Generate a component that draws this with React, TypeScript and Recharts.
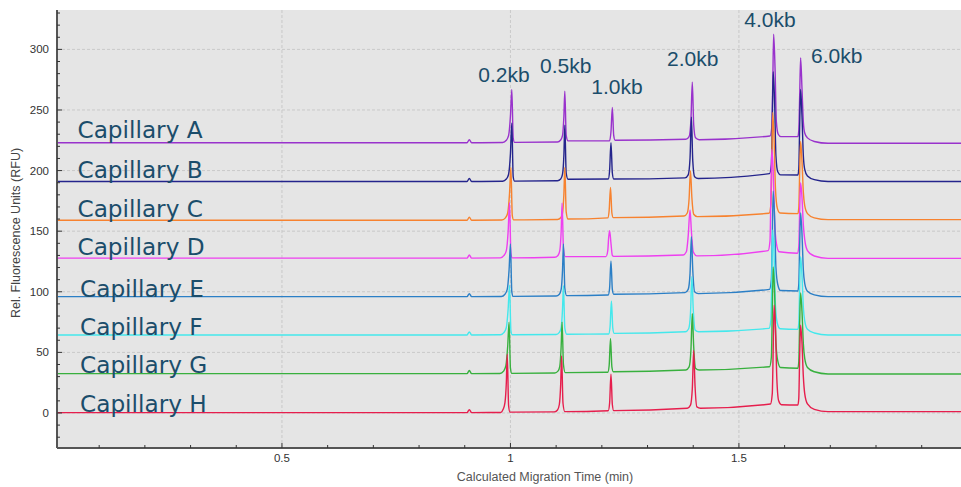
import { LineChart, Line, XAxis, YAxis, CartesianGrid, ReferenceLine, ReferenceDot } from "recharts";

type Pt = [number, number];

// migration time (min), RFU
const capA: Pt[] = [
  [0, 223], [0.905, 223], [0.91, 225.5], [0.915, 223],
  [0.983, 223.2], [0.991, 225], [0.996, 229], [1.0, 245], [1.003, 267], [1.006, 227], [1.009, 223.3],
  [1.103, 223.6], [1.11, 225.2], [1.114, 229], [1.117, 245], [1.119, 265.5], [1.122, 229], [1.126, 224.5],
  [1.217, 224.6], [1.22, 232], [1.223, 252], [1.226, 229], [1.229, 225],
  [1.384, 225.8], [1.391, 228], [1.395, 242], [1.398, 273], [1.401, 238], [1.405, 227], [1.413, 225.5],
  [1.568, 228.5], [1.572, 236], [1.574, 270], [1.576, 312.5], [1.579, 285], [1.582, 240], [1.586, 230], [1.592, 228],
  [1.629, 228], [1.631, 233], [1.633, 262], [1.635, 293], [1.638, 268], [1.641, 240], [1.644, 231], [1.65, 227], [1.665, 224], [1.695, 222.5], [1.986, 222.5],
];
const capB: Pt[] = [
  [0, 191], [0.905, 191], [0.91, 193.5], [0.915, 191],
  [0.983, 191.2], [0.991, 193], [0.996, 197], [1.0, 214], [1.003, 239], [1.006, 195], [1.009, 191.3],
  [1.103, 191.6], [1.11, 193], [1.114, 197], [1.117, 213], [1.119, 237.5], [1.122, 198], [1.126, 192.8],
  [1.214, 193], [1.217, 200], [1.22, 223], [1.223, 198], [1.226, 193],
  [1.382, 194], [1.389, 196.5], [1.393, 210], [1.396, 244], [1.399, 208], [1.403, 195], [1.411, 193.5],
  [1.567, 197.5], [1.571, 205], [1.573, 240], [1.575, 281.5], [1.578, 258], [1.581, 212], [1.585, 199], [1.591, 196.5],
  [1.629, 196.4], [1.631, 201], [1.633, 238], [1.635, 267], [1.638, 245], [1.641, 212], [1.644, 201], [1.65, 195.5], [1.665, 192.5], [1.695, 191], [1.986, 191],
];
const capC: Pt[] = [
  [0, 159], [0.905, 159], [0.91, 161.5], [0.915, 159],
  [0.981, 159.2], [0.989, 161], [0.994, 165], [0.998, 181], [1.001, 202.5], [1.004, 163], [1.007, 159.3],
  [1.103, 159.6], [1.11, 161], [1.114, 165], [1.117, 181], [1.119, 202.5], [1.122, 166], [1.126, 160],
  [1.213, 161], [1.216, 167], [1.219, 186], [1.222, 165], [1.225, 161.2],
  [1.38, 162.5], [1.387, 165], [1.391, 177], [1.394, 200], [1.397, 178], [1.401, 164], [1.409, 162],
  [1.566, 164.8], [1.57, 172], [1.572, 205], [1.574, 248], [1.577, 225], [1.58, 185], [1.584, 169], [1.59, 165],
  [1.629, 164.5], [1.631, 169], [1.633, 200], [1.635, 224], [1.638, 208], [1.641, 182], [1.644, 171], [1.65, 164.5], [1.665, 161], [1.695, 159.5], [1.986, 159.5],
];
const capD: Pt[] = [
  [0, 127.8], [0.905, 127.8], [0.91, 130.3], [0.915, 127.8],
  [0.978, 128], [0.986, 130], [0.991, 134], [0.995, 150], [0.998, 173.5], [1.001, 132], [1.004, 128],
  [1.097, 128.5], [1.104, 130], [1.108, 134], [1.111, 150], [1.113, 173], [1.116, 136], [1.12, 129],
  [1.209, 129], [1.213, 134], [1.215, 145], [1.217, 150.5], [1.22, 140], [1.223, 130], [1.226, 129.2],
  [1.378, 130.4], [1.385, 133], [1.389, 146], [1.393, 167.5], [1.396, 150], [1.4, 133], [1.408, 129.6],
  [1.564, 134], [1.568, 142], [1.57, 180], [1.572, 217.5], [1.575, 200], [1.578, 160], [1.582, 140], [1.588, 133],
  [1.628, 131.8], [1.631, 137], [1.633, 168], [1.635, 190], [1.638, 178], [1.641, 155], [1.644, 143], [1.65, 134], [1.665, 129.5], [1.695, 127.6], [1.986, 127.6],
];
const capE: Pt[] = [
  [0, 96], [0.905, 96], [0.91, 98.5], [0.915, 96],
  [0.98, 96.1], [0.988, 98], [0.993, 102], [0.997, 118], [1.0, 139.5], [1.003, 100], [1.006, 96.2],
  [1.1, 96.5], [1.107, 98], [1.111, 102], [1.114, 118], [1.116, 139.5], [1.119, 103], [1.123, 96.8],
  [1.214, 97.4], [1.217, 103], [1.22, 125.5], [1.223, 102], [1.226, 98],
  [1.382, 99.3], [1.389, 102], [1.393, 115], [1.396, 145.5], [1.399, 118], [1.403, 100], [1.411, 98.5],
  [1.567, 102], [1.571, 110], [1.573, 145], [1.575, 183], [1.578, 162], [1.581, 120], [1.585, 106], [1.591, 101],
  [1.629, 100.7], [1.631, 106], [1.633, 140], [1.635, 165], [1.638, 148], [1.641, 118], [1.644, 107], [1.65, 100.5], [1.665, 97.5], [1.695, 96], [1.986, 96],
];
const capF: Pt[] = [
  [0, 64.4], [0.905, 64.4], [0.91, 66.9], [0.915, 64.4],
  [0.978, 64.5], [0.986, 66.5], [0.991, 70.5], [0.995, 86], [0.998, 105.5], [1.001, 68], [1.004, 64.5],
  [1.1, 64.7], [1.107, 66.5], [1.111, 70.5], [1.114, 86], [1.116, 105], [1.119, 70], [1.123, 65],
  [1.215, 65.2], [1.218, 71], [1.221, 92.5], [1.224, 70], [1.227, 65.7],
  [1.383, 67], [1.39, 69.5], [1.394, 82], [1.397, 112.5], [1.4, 86], [1.404, 68.5], [1.412, 67],
  [1.566, 69.8], [1.57, 77], [1.572, 112], [1.574, 151], [1.577, 130], [1.58, 88], [1.584, 74], [1.59, 69.5],
  [1.629, 69], [1.631, 74], [1.633, 106], [1.635, 129], [1.638, 114], [1.641, 87], [1.644, 76], [1.65, 69], [1.665, 66], [1.695, 64.4], [1.986, 64.4],
];
const capG: Pt[] = [
  [0, 32.5], [0.905, 32.5], [0.91, 35], [0.915, 32.5],
  [0.977, 32.6], [0.985, 34.5], [0.99, 39], [0.994, 55], [0.997, 75], [1.0, 37], [1.003, 32.7],
  [1.097, 33], [1.104, 34.5], [1.108, 38.5], [1.111, 55], [1.113, 75], [1.116, 40], [1.12, 33.3],
  [1.213, 33.6], [1.216, 39], [1.219, 61.5], [1.222, 38], [1.225, 34],
  [1.384, 35.5], [1.391, 38], [1.395, 52], [1.398, 82], [1.401, 55], [1.405, 37], [1.413, 35.5],
  [1.567, 38.2], [1.571, 46], [1.573, 82], [1.575, 120.5], [1.578, 100], [1.581, 58], [1.585, 43], [1.591, 37.5],
  [1.629, 36.9], [1.631, 42], [1.633, 76], [1.635, 99], [1.638, 84], [1.641, 57], [1.644, 45], [1.65, 37.5], [1.665, 34], [1.695, 32.2], [1.986, 32.2],
];
const capH: Pt[] = [
  [0, 0.3], [0.905, 0.3], [0.91, 2.8], [0.915, 0.3],
  [0.979, 0.4], [0.984, 3], [0.988, 8.5], [0.991, 25], [0.993, 48.5], [0.996, 6], [0.999, 0.7],
  [1.096, 0.9], [1.103, 2.5], [1.107, 7], [1.11, 24], [1.112, 47], [1.115, 8], [1.119, 1.1],
  [1.214, 1.8], [1.217, 8], [1.22, 32], [1.223, 7], [1.226, 1.9],
  [1.387, 3.9], [1.394, 6.5], [1.398, 20], [1.401, 51.5], [1.404, 22], [1.408, 5], [1.416, 3.9],
  [1.569, 7.4], [1.573, 16], [1.575, 52], [1.577, 89], [1.58, 70], [1.583, 28], [1.587, 10], [1.593, 6.8],
  [1.629, 6.6], [1.631, 12], [1.633, 48], [1.635, 72.5], [1.638, 58], [1.641, 30], [1.644, 16], [1.65, 7.5], [1.665, 3], [1.695, 1.1], [1.986, 1.1],
];

const capillaries = ["Capillary A", "Capillary B", "Capillary C", "Capillary D", "Capillary E", "Capillary F", "Capillary G", "Capillary H"];
const traces = [capA, capB, capC, capD, capE, capF, capG, capH];
const colors = ["#9932cc", "#24248c", "#f7822f", "#ee3ff0", "#2b7fc6", "#44e8ec", "#38b03e", "#e61e4d"];

// where the capillary names sit (min, RFU)
const capLabelAt: Pt[] = [
  [0.0525, 233.5], [0.0525, 201.3], [0.0525, 168.9], [0.0525, 137.2],
  [0.058, 102.9], [0.058, 71.2], [0.058, 39.6], [0.058, 7.9],
];

const fragments = ["0.2kb", "0.5kb", "1.0kb", "2.0kb", "4.0kb", "6.0kb"];
const fragmentLabelAt: Pt[] = [
  [0.986, 278.9], [1.121, 286.3], [1.233, 269], [1.399, 292.5], [1.568, 324.7], [1.714, 294.6],
];

const xTicks = [0.1, 0.2, 0.3, 0.4, 0.5, 0.6, 0.7, 0.8, 0.9, 1, 1.1, 1.2, 1.3, 1.4, 1.5, 1.6, 1.7, 1.8, 1.9];
const xGrid = [0.5, 1, 1.5];
const yTicks = [-20, -10, 0, 10, 20, 30, 40, 50, 60, 70, 80, 90, 100, 110, 120, 130, 140, 150, 160, 170, 180, 190, 200, 210, 220, 230, 240, 250, 260, 270, 280, 290, 300, 310, 320, 330];
const yGrid = [0, 50, 100, 150, 200, 250, 300];

const labelColor = "#1b4d6b";

const isMajor = (v: number) => Math.abs(v * 2 - Math.round(v * 2)) < 1e-6;
const isMajorY = (v: number) => v % 50 === 0;

const XTick = (props: any) => {
  const { x, y, payload } = props;
  const major = isMajor(payload.value);
  return (
    <g>
      <line x1={x} x2={x} y1={y} y2={y - (major ? 5 : 3)} stroke="#333" strokeWidth={1} />
      {major && (
        <text x={x} y={y + 14} textAnchor="middle" fontSize={11.5} fill="#333">
          {payload.value}
        </text>
      )}
    </g>
  );
};

const YTick = (props: any) => {
  const { x, y, payload } = props;
  const major = isMajorY(payload.value);
  return (
    <g>
      <line x1={x} x2={x + (major ? 5 : 3)} y1={y} y2={y} stroke="#333" strokeWidth={1} />
      {major && (
        <text x={x - 8} y={y + 4} textAnchor="end" fontSize={11.5} fill="#333">
          {payload.value}
        </text>
      )}
    </g>
  );
};

const App = () => {
  return (
    <div style={{ position: "fixed", left: 0, top: 0, width: 961, height: 487, background: "#fff", fontFamily: "'Liberation Sans', Arial, sans-serif" }}>
      <LineChart width={961} height={487} margin={{ top: 10, right: 0, left: 0, bottom: 0 }}>
        <CartesianGrid fill="#e5e5e5" horizontal={false} vertical={false} stroke="none" />
        <XAxis
          type="number"
          dataKey="t"
          domain={[0.0077, 1.986]}
          allowDataOverflow
          ticks={xTicks}
          interval={0}
          tick={<XTick />}
          tickSize={0}
          tickMargin={0}
          tickLine={false}
          height={39}
          axisLine={{ stroke: "#555", strokeWidth: 2 }}
          label={{
            content: () => (
              <text x={545} y={481} textAnchor="middle" fontSize={12.5} fill="#555">
                Calculated Migration Time (min)
              </text>
            ),
          }}
        />
        <YAxis
          type="number"
          domain={[-28.9, 332.5]}
          allowDataOverflow
          ticks={yTicks}
          interval={0}
          tick={<YTick />}
          tickSize={0}
          tickMargin={0}
          tickLine={false}
          width={57}
          axisLine={{ stroke: "#555", strokeWidth: 2 }}
          label={{
            content: () => (
              <text x={20} y={233} textAnchor="middle" fontSize={12.5} fill="#444" transform="rotate(-90 20 233)">
                Rel. Fluorescence Units (RFU)
              </text>
            ),
          }}
        />
        {yGrid.map((v) => (
          <ReferenceLine key={"h" + v} y={v} stroke="#c9c9c9" strokeDasharray="3 2" />
        ))}
        {xGrid.map((v) => (
          <ReferenceLine key={"v" + v} x={v} stroke="#c9c9c9" strokeDasharray="3 2" />
        ))}
        {traces.map((pts, i) => (
          <Line
            key={capillaries[i]}
            name={capillaries[i]}
            data={pts.map(([t, v]) => ({ t, v }))}
            dataKey="v"
            type="monotone"
            stroke={colors[i]}
            strokeWidth={1.4}
            dot={false}
            activeDot={false}
            isAnimationActive={false}
          />
        ))}
        {capillaries.map((name, i) => (
          <ReferenceDot
            key={"c" + name}
            x={capLabelAt[i][0]}
            y={capLabelAt[i][1]}
            r={0}
            fill="none"
            stroke="none"
            ifOverflow="visible"
            label={(p: any) => (
              <text
                x={p.viewBox.x}
                y={p.viewBox.y}
                dominantBaseline="central"
                fontSize={23.2}
                fontFamily="'DejaVu Sans', Verdana, sans-serif"
                fill={labelColor}
              >
                {name}
              </text>
            )}
          />
        ))}
        {fragments.map((name, i) => (
          <ReferenceDot
            key={"f" + name}
            x={fragmentLabelAt[i][0]}
            y={fragmentLabelAt[i][1]}
            r={0}
            fill="none"
            stroke="none"
            ifOverflow="visible"
            label={(p: any) => (
              <text x={p.viewBox.x} y={p.viewBox.y} dominantBaseline="central" textAnchor="middle" fontSize={21} fill={labelColor}>
                {name}
              </text>
            )}
          />
        ))}
      </LineChart>
    </div>
  );
};

export default App;
